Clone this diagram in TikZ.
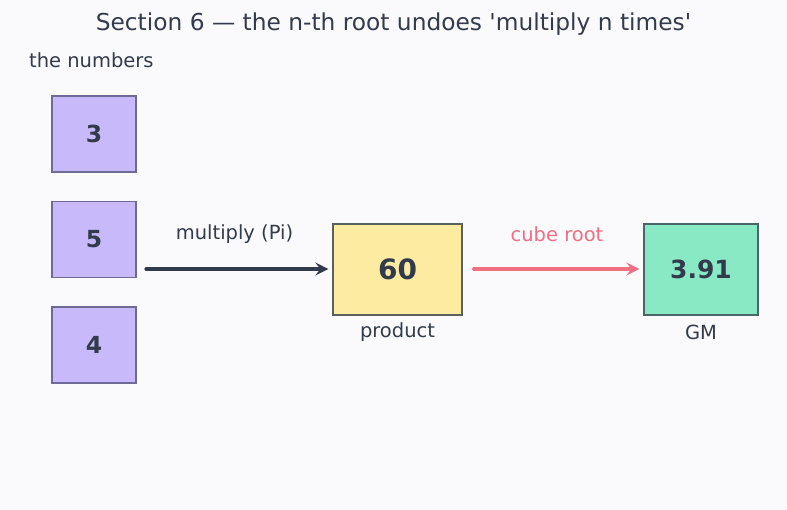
\documentclass[tikz,border=0pt]{standalone}
\usepackage{fontspec}
\setmainfont{DejaVu Sans}
\usetikzlibrary{arrows.meta}
\definecolor{bg}{HTML}{FAFAFD}
\definecolor{ink}{HTML}{323B4C}
\definecolor{numfill}{HTML}{C8B9FB}
\definecolor{numdraw}{HTML}{6E6A96}
\definecolor{prodfill}{HTML}{FDEBA2}
\definecolor{prodddraw}{HTML}{5A605E}
\definecolor{gmfill}{HTML}{8AE9C5}
\definecolor{gmdraw}{HTML}{4A6668}
\definecolor{rootc}{HTML}{F07082}
\tikzset{
  numbox/.style={draw=numdraw, fill=numfill, line width=1.3pt, minimum width=84pt, minimum height=76pt, inner sep=0pt, text=ink, font=\bfseries\fontsize{23.5}{27}\selectfont},
  lbl/.style={text=ink, font=\fontsize{19.5}{23}\selectfont, inner sep=0pt},
  flow/.style={line width=3.2pt, line cap=round, -{Stealth[length=13pt,width=13pt,inset=5pt]}},
}
\begin{document}
\begin{tikzpicture}[x=1pt,y=-1pt]
\fill[bg] (0,0) rectangle (787,510);
\useasboundingbox (0,0) rectangle (787,510);
\node[text=ink, font=\fontsize{23.3}{27}\selectfont, inner sep=0pt] (title) at (393.5,24) {Section 6 — the n-th root undoes \textquotesingle multiply n times\textquotesingle};
\node[lbl, anchor=west] (nums) at (29,60) {the numbers};
\node[numbox] (n3) at (94,134) {3};
\node[numbox] (n5) at (94,239.5) {5};
\node[numbox] (n4) at (94,345) {4};
\node[draw=prodddraw, fill=prodfill, line width=1.3pt, minimum width=129pt, minimum height=91pt, inner sep=0pt, text=ink, font=\bfseries\fontsize{28}{32}\selectfont] (prod) at (397.5,269.5) {60};
\node[draw=gmdraw, fill=gmfill, line width=1.3pt, minimum width=114pt, minimum height=91pt, inner sep=0pt, text=ink, font=\bfseries\fontsize{25}{29}\selectfont] (gm) at (701,269.5) {3.91};
\coordinate (a1s) at (146,269);
\draw[flow, ink] (a1s) -- ([xshift=-4pt]prod.west |- a1s);
\draw[flow, rootc] ([xshift=11pt]prod.east |- a1s) -- ([xshift=-4pt]gm.west |- a1s);
\node[lbl] (mlab) at (234.5,234) {multiply (Pi)};
\node[lbl, text=rootc] (clab) at (557,234) {cube root};
\node[lbl] (plab) at (397.5,332) {product};
\node[lbl] (glab) at (701,332) {GM};
\end{tikzpicture}
\end{document}
